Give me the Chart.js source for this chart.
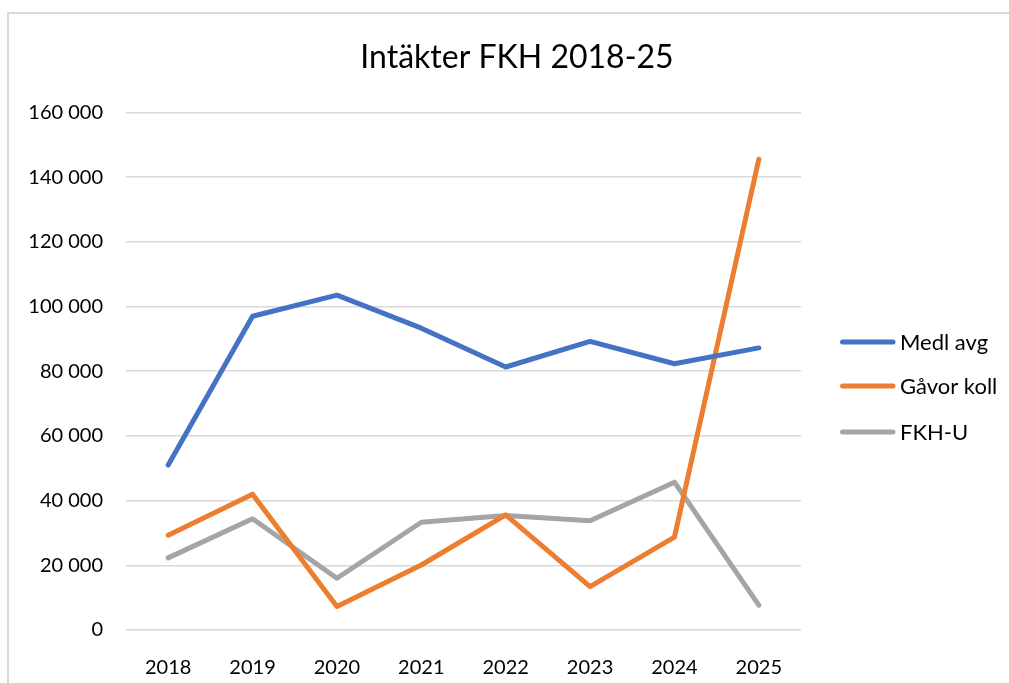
<!DOCTYPE html>
<html>
<head>
<meta charset="utf-8">
<script src="https://cdn.jsdelivr.net/npm/chart.js@4.4.1/dist/chart.umd.min.js"></script>
<style>
  html, body { margin: 0; padding: 0; background: #fff; overflow: hidden; }
  #frame { position: absolute; left: 7px; top: 12px; width: 1100px; height: 800px;
           border-left: 2px solid #d9d9d9; border-top: 2px solid #d9d9d9; }
  #wrap { position: absolute; left: 0; top: 0; width: 1009px; height: 683px; }
</style>
</head>
<body>
<div id="frame"></div>
<div id="wrap"><canvas id="c"></canvas></div>
<script>
const titleText = 'Intäkter FKH 2018-25';
const categories = ['2018', '2019', '2020', '2021', '2022', '2023', '2024', '2025'];
const seriesNames = ['Medl avg', 'Gåvor koll', 'FKH-U'];
const medlAvg   = [51000, 97000, 103500, 93300, 81300, 89200, 82300, 87200];
const gavorKoll = [29300, 42000, 7300, 20100, 35600, 13400, 28700, 145500];
const fkhU      = [22300, 34400, 16000, 33300, 35400, 33800, 45700, 7700];
const colors = ['#4472C4', '#ED7D31', '#A5A5A5'];
const yMin = 0, yMax = 160000, yStep = 20000;

const FONT = 'Lato';

function fmt(v) {
  return String(v).replace(/\B(?=(\d{3})+(?!\d))/g, ' ');
}

const customLayout = {
  id: 'customLayout',
  afterLayout(chart) {
    // centre the title over the whole bordered frame
    if (chart.titleBlock) {
      chart.titleBlock.left = 9;
      chart.titleBlock.right = 1025;
    }
  },
  afterDraw(chart) {
    const ctx = chart.ctx;
    const ys = [342, 386, 432];
    ctx.save();
    chart.data.datasets.forEach((ds, i) => {
      ctx.strokeStyle = ds.borderColor;
      ctx.lineWidth = 5;
      ctx.lineCap = 'round';
      ctx.beginPath();
      ctx.moveTo(842.5, ys[i]);
      ctx.lineTo(893, ys[i]);
      ctx.stroke();
      ctx.fillStyle = '#000';
      ctx.font = '22px ' + FONT;
      ctx.textAlign = 'left';
      ctx.textBaseline = 'middle';
      ctx.fillText(ds.label, 900, ys[i] + 1);
    });
    ctx.restore();
  }
};

const datasets = [medlAvg, gavorKoll, fkhU].map((d, i) => ({
  label: seriesNames[i],
  data: d,
  borderColor: colors[i],
  backgroundColor: colors[i],
  borderWidth: 5,
  borderCapStyle: 'round',
  borderJoinStyle: 'round',
  pointRadius: 0,
  pointHoverRadius: 0,
  tension: 0,
  fill: false
}));

new Chart(document.getElementById('c'), {
  type: 'line',
  data: { labels: categories, datasets },
  options: {
    responsive: true,
    maintainAspectRatio: false,
    animation: false,
    events: [],
    layout: { padding: { left: 0, right: 208, top: 0, bottom: 0 } },
    plugins: {
      legend: { display: false },
      tooltip: { enabled: false },
      title: {
        display: true,
        text: titleText,
        color: '#000',
        font: { family: FONT, size: 32, weight: 'normal' },
        padding: { top: 38, bottom: 36 }
      }
    },
    scales: {
      x: {
        offset: true,
        grid: { display: false },
        border: { display: false },
        ticks: { color: '#000', font: { family: FONT, size: 20 }, padding: 18, maxRotation: 0 },
        afterFit(scale) { scale.height = 53; }
      },
      y: {
        min: yMin, max: yMax,
        grid: { color: '#d9d9d9', lineWidth: 1.5, drawTicks: false },
        border: { display: false },
        ticks: { stepSize: yStep, color: '#000', font: { family: FONT, size: 20 }, padding: 23,
                 callback: v => fmt(v) },
        afterFit(scale) { scale.width = 126; }
      }
    }
  },
  plugins: [customLayout]
});
</script>
</body>
</html>
